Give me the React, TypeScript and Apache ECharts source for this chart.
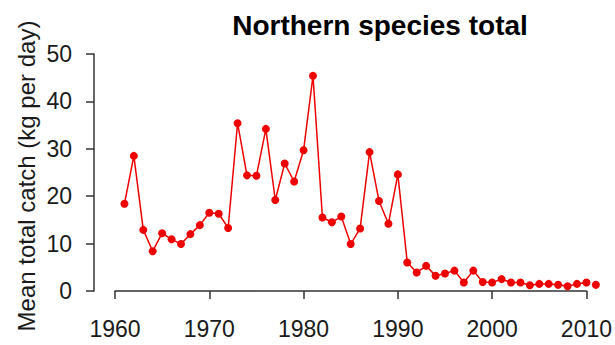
import React, { useEffect, useRef } from "react";
import * as echarts from "echarts";

const years: number[] = [
  1961, 1962, 1963, 1964, 1965, 1966, 1967, 1968, 1969, 1970,
  1971, 1972, 1973, 1974, 1975, 1976, 1977, 1978, 1979, 1980,
  1981, 1982, 1983, 1984, 1985, 1986, 1987, 1988, 1989, 1990,
  1991, 1992, 1993, 1994, 1995, 1996, 1997, 1998, 1999, 2000,
  2001, 2002, 2003, 2004, 2005, 2006, 2007, 2008, 2009, 2010, 2011,
];
const catchValues: number[] = [
  18.4, 28.5, 12.9, 8.4, 12.2, 10.9, 9.9, 12.0, 13.9, 16.5,
  16.3, 13.3, 35.4, 24.4, 24.3, 34.2, 19.2, 26.9, 23.1, 29.7,
  45.4, 15.5, 14.5, 15.7, 9.9, 13.2, 29.3, 19.0, 14.2, 24.6,
  6.0, 3.9, 5.3, 3.2, 3.7, 4.3, 1.8, 4.3, 1.9, 1.8,
  2.5, 1.8, 1.8, 1.2, 1.5, 1.5, 1.3, 1.0, 1.5, 1.8, 1.3,
];
const titleText = "Northern species total";
const yAxisTitle = "Mean total catch (kg per day)";

const FONT = "'Liberation Sans', Arial, Helvetica, sans-serif";

export default function App() {
  const ref = useRef<HTMLDivElement>(null);
  useEffect(() => {
    if (!ref.current) return;
    const chart = echarts.init(ref.current, undefined, { renderer: "svg" });
    const data = years.map((y, i) => [y, catchValues[i]]);
    chart.setOption({
      animation: false,
      backgroundColor: "#ffffff",
      title: {
        text: titleText,
        left: 375,
        top: 6,
        textAlign: "center",
        textStyle: { fontFamily: FONT, fontSize: 28, fontWeight: "bold", color: "#000" },
      },
      graphic: [
        {
          type: "text",
          x: 26,
          y: 176,
          rotation: Math.PI / 2,
          style: {
            text: yAxisTitle,
            fontFamily: FONT,
            fontSize: 24,
            fill: "#1a1a1a",
            textAlign: "center",
            textVerticalAlign: "middle",
          },
        },
      ],
      grid: { left: 115, right: 28, top: 54, bottom: 54 },
      xAxis: {
        type: "value",
        min: 1960,
        max: 2010,
        interval: 10,
        offset: 11,
        axisLine: { show: true, lineStyle: { color: "#333", width: 1.5 } },
        axisTick: { show: true, length: 8, lineStyle: { color: "#333", width: 1.5 } },
        axisLabel: {
          fontFamily: FONT,
          fontSize: 23,
          color: "#1a1a1a",
          margin: 15,
          formatter: (v: number) => String(v),
        },
        splitLine: { show: false },
      },
      yAxis: {
        type: "value",
        min: 0,
        max: 50,
        interval: 10,
        offset: 21,
        axisLine: { show: true, lineStyle: { color: "#333", width: 1.5 } },
        axisTick: { show: true, length: 8, lineStyle: { color: "#333", width: 1.5 } },
        axisLabel: { fontFamily: FONT, fontSize: 23, color: "#1a1a1a", margin: 22 },
        splitLine: { show: false },
      },
      series: [
        {
          type: "line",
          data,
          clip: false,
          symbol: "circle",
          symbolSize: 8,
          lineStyle: { color: "#ee0000", width: 1.5 },
          itemStyle: { color: "#ee0000" },
        },
      ],
    });
    return () => chart.dispose();
  }, []);
  return (
    <div
      ref={ref}
      style={{ position: "absolute", left: 0, top: 0, width: 615, height: 345 }}
    />
  );
}
